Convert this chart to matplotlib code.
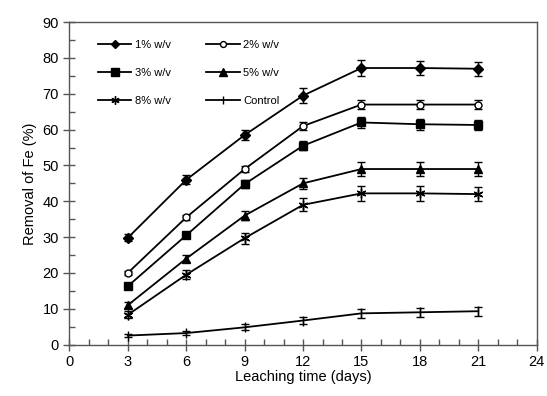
import numpy as np
import matplotlib
matplotlib.use("Agg")
import matplotlib.pyplot as plt
from matplotlib.ticker import MultipleLocator

plt.rcParams['font.family'] = ['Liberation Sans', 'DejaVu Sans']

days = [3, 6, 9, 12, 15, 18, 21]
labels = ['1% w/v', '2% w/v', '3% w/v', '5% w/v', '8% w/v', 'Control']
fe_1 = [29.8, 46.0, 58.5, 69.5, 77.2, 77.2, 77.0]
fe_2 = [20.0, 35.5, 49.0, 61.0, 67.0, 67.0, 67.0]
fe_3 = [16.3, 30.5, 44.8, 55.5, 62.0, 61.5, 61.3]
fe_5 = [11.0, 24.0, 36.0, 45.0, 49.0, 49.0, 49.0]
fe_8 = [8.3, 19.5, 29.7, 39.0, 42.2, 42.2, 42.0]
fe_ctrl = [2.5, 3.2, 4.8, 6.7, 8.7, 9.0, 9.3]
err_1 = [1.0, 1.2, 1.5, 2.0, 2.3, 2.0, 2.0]
err_2 = [0.6, 0.8, 0.8, 1.0, 1.3, 1.3, 1.3]
err_3 = [0.6, 0.8, 1.0, 1.2, 1.5, 1.5, 1.5]
err_5 = [0.8, 1.0, 1.3, 1.5, 2.0, 2.0, 2.0]
err_8 = [1.0, 1.2, 1.5, 1.8, 2.0, 2.0, 2.0]
err_ctrl = [0.5, 0.6, 0.8, 1.0, 1.2, 1.2, 1.2]

series = [fe_1, fe_2, fe_3, fe_5, fe_8, fe_ctrl]
errors = [err_1, err_2, err_3, err_5, err_8, err_ctrl]
styles = [
    dict(marker='D', ms=5, mfc='black'),
    dict(marker='o', ms=5, mfc='white'),
    dict(marker='s', ms=6, mfc='black'),
    dict(marker='^', ms=6, mfc='black'),
    dict(marker=(6, 2, 0), ms=7, mfc='black'),
    dict(marker='|', ms=7, mfc='black'),
]

fig = plt.figure(figsize=(5.47, 3.96), dpi=100)
ax = fig.add_axes([0.127, 0.130, 0.854, 0.814])

for y, e, lab, st in zip(series, errors, labels, styles):
    ax.errorbar(days, y, yerr=e, color='black', lw=1.3, capsize=3, elinewidth=1,
                capthick=1, mec='black', label=lab, **st)

ax.set_xlim(0, 24)
ax.set_ylim(0, 90)
ax.xaxis.set_major_locator(MultipleLocator(3))
ax.xaxis.set_minor_locator(MultipleLocator(1))
ax.yaxis.set_major_locator(MultipleLocator(10))
ax.yaxis.set_minor_locator(MultipleLocator(5))
ax.tick_params(which='major', direction='inout', length=8, width=1, color='#555555', labelsize=10.5)
ax.tick_params(which='minor', direction='in', length=4, width=1, color='#555555')
for s in ax.spines.values():
    s.set_color('#555555')
    s.set_linewidth(1)

ax.set_xlabel('Leaching time (days)', fontsize=10.5, labelpad=1)
ax.set_ylabel('Removal of Fe (%)', fontsize=10.5, labelpad=4)

handles, labs = ax.get_legend_handles_labels()
order = [0, 2, 4, 1, 3, 5]
leg = ax.legend([handles[i][0] for i in order], [labs[i] for i in order], ncol=2,
                frameon=False, fontsize=8, loc='upper left', bbox_to_anchor=(0.04, 0.975),
                handlelength=3.0, columnspacing=3.2, labelspacing=1.6, handletextpad=0.3,
                markerscale=0.85)

fig.savefig('out.png', dpi=100)
